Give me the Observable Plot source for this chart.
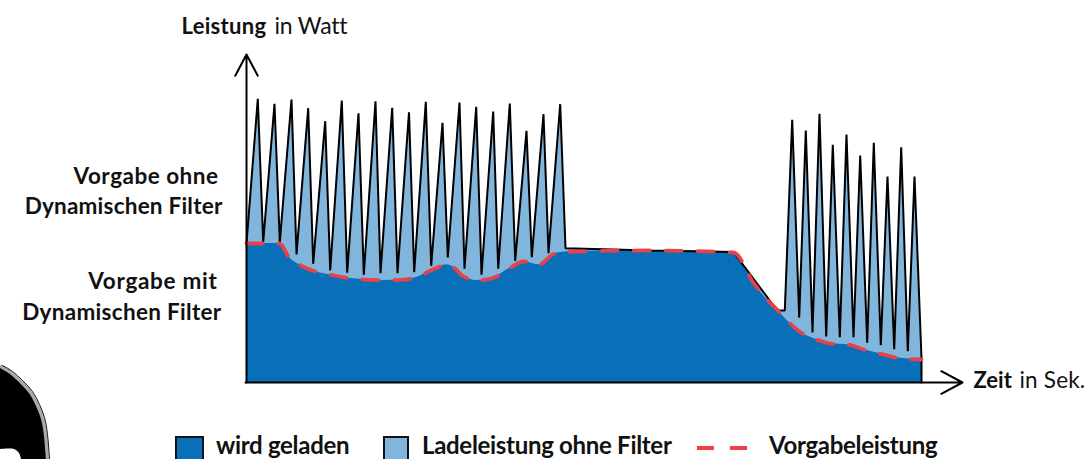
<!DOCTYPE html>
<html><head><meta charset="utf-8">
<script src="https://cdn.jsdelivr.net/npm/d3@7"></script>
<script src="https://cdn.jsdelivr.net/npm/@observablehq/plot@0.6"></script>
<style>
html,body{margin:0;padding:0;background:#fff;width:1088px;height:459px;overflow:hidden;font-family:Lato,sans-serif}
#wrap{position:relative;width:1088px;height:459px;overflow:hidden}
svg{display:block}
#legend{position:absolute;left:0;top:433px;height:24px;width:1088px;color:#111;font-size:24px;line-height:24px;font-weight:700;letter-spacing:-.3px;white-space:nowrap}
#legend span{position:absolute;top:0}
#legend i{position:absolute;display:block;box-sizing:border-box;top:3px;height:30px;border:2px solid #111}
#legend b{position:absolute;display:block;height:4px;top:13px}
</style></head><body><div id="wrap"><div id="chart"></div><div id="legend"></div></div>
<script>
const ladeZeit=[0,11.3,16.7,28,33.3,45,50,61.7,66.7,78.7,83.7,95.3,100.7,112,117.3,129,134,145.7,151,162.5,167.7,179.3,184.7,196,201.3,213,218,229.7,235,246.7,251.7,263.3,268.7,280,285.3,297,302,313.7,319,404,487,530.7,538.3,545.7,552.7,559.3,566,573,579.7,586.3,593.3,600,607,613.7,620.7,627.3,634.3,641,647.7,654.7,661.3,668,675,675];
const ladeLeistung=[139,283.7,140.3,278.7,140.3,283,128,274.3,118.7,261.3,112,282,109.7,269.3,107.7,281.3,109.3,274.7,109.3,270.3,110.3,280.7,116.7,259.7,125,280,113.7,275.7,107.7,271,113.7,279,121.7,251.7,125.3,268.3,129.3,278.3,134.3,132,130.5,72,72,262.7,64.7,252,50,268.7,46,237.7,45.3,248,45.3,227,39.7,239.7,37.3,206,33.3,235.3,31.3,206,24,0];
const filterZeit=[0,16,33,42,55.7,71,88,104,120.7,137,154,169,185.7,200.7,207,215.7,230.7,247,262.3,277.3,292.3,306.7,322,404,487,507.3,518.3,530.7,540.7,554,569,585.7,602,617,634,650.7,675];
const filterLeistung=[139,139,139,126,116.3,110.3,107,104,102.7,102,102.7,104.7,112.7,117.7,115.3,107,102,104.7,113.7,121,117.7,128.3,130.7,132,130,99.3,85.3,72.7,62,50.3,43.3,38.7,37.7,33,28.7,24.7,23];
const randZeit=[-246,-236,-226,-216,-209,-204,-201,-199];
const randWert=[16,10,1,-10,-23,-36,-53,-77];
const fleckZeit=[-246,-232,-227,-225];
const fleckWert=[-67,-67,-71,-77];
const legendeEintraege=["wird geladen","Ladeleistung ohne Filter","Vorgabeleistung"];
const farbeGeladen="#0a6fb9",farbeLade="#82b5dc",farbeVorgabe="#e8414a";

const lade=ladeZeit.map((x,i)=>({x,y:ladeLeistung[i]}));
const filter=filterZeit.map((x,i)=>({x,y:filterLeistung[i]}));
const rand=randZeit.map((x,i)=>({x,y:randWert[i]}));
const fleck=fleckZeit.map((x,i)=>({x,y:fleckWert[i]}));

let cssIndex=0;const cssRules=[];
const t=(text,x,y,textAnchor,fontWeight,fontSize,ls)=>{const c="ls"+(cssIndex++);cssRules.push(`.${c}{letter-spacing:${ls}}`);return Plot.text([{text,x,y}],{x:"x",y:"y",text:"text",textAnchor,fontWeight,fontSize,fill:"#111",fontFamily:"Lato",className:c});};

const plot=Plot.plot({
  width:1088,height:459,margin:0,
  x:{domain:[-246,842],range:[0,1088],axis:null},
  y:{domain:[-77,382],range:[459,0],axis:null},
  marks:[
    Plot.areaY(rand,{x:"x",y1:-77,y2:"y",fill:"#000",curve:"natural"}),
    Plot.line(rand,{x:"x",y:"y",stroke:"#a8a8a8",strokeWidth:3.2,curve:"natural"}),
    Plot.line(rand,{x:"x",y:"y",stroke:"#111",strokeWidth:1,dx:2,dy:-1,curve:"natural"}),
    Plot.areaY(fleck,{x:"x",y1:-77,y2:"y",fill:"#fff",curve:"catmull-rom"}),
    Plot.areaY(lade,{x:"x",y:"y",fill:farbeLade}),
    Plot.areaY(filter,{x:"x",y:"y",fill:farbeGeladen,curve:"monotone-x"}),
    Plot.line(lade,{x:"x",y:"y",stroke:"#000",strokeWidth:2,strokeLinejoin:"miter"}),
    Plot.line(filter,{x:"x",y:"y",stroke:farbeVorgabe,strokeWidth:3.8,strokeDasharray:"16,16",curve:"monotone-x"}),
    Plot.arrow([{x1:-1,y1:0,x2:716,y2:0}],{x1:"x1",y1:"y1",x2:"x2",y2:"y2",stroke:"#000",strokeWidth:2,headLength:18,headAngle:56,bend:0}),
    Plot.arrow([{x1:0,y1:0,x2:0,y2:328}],{x1:"x1",y1:"y1",x2:"x2",y2:"y2",stroke:"#000",strokeWidth:2,headLength:18,headAngle:56,bend:0}),
    t("Leistung",-65,356,"start","700",22,".3px"),
    t("in Watt",28,356,"start","400",23,"-.2px"),
    t("Vorgabe ohne",-28,206,"end","700",22.5,".5px"),
    t("Dynamischen Filter",-24,176,"end","700",22.5,".22px"),
    t("Vorgabe mit",-29,101,"end","700",22.5,".7px"),
    t("Dynamischen Filter",-25,70,"end","700",22.5,".3px"),
    t("Zeit",727,2,"start","700",22,"0px"),
    t("in Sek.",773,2,"start","400",22.5,".2px")
  ]
});
const st=document.createElement("style");st.textContent=cssRules.join("\n");document.head.append(st);
document.getElementById("chart").append(plot);

const lg=document.getElementById("legend");
const add=(tag,css,txt)=>{const e=document.createElement(tag);e.style.cssText=css;if(txt)e.textContent=txt;lg.append(e)};
add("i",`left:175px;width:29px;background:${farbeGeladen}`);
add("span","left:216px",legendeEintraege[0]);
add("i",`left:383px;width:26px;background:${farbeLade}`);
add("span","left:422px",legendeEintraege[1]);
add("b",`left:697px;width:17px;background:${farbeVorgabe}`);
add("b",`left:730px;width:17px;background:${farbeVorgabe}`);
add("span","left:769px",legendeEintraege[2]);
</script></body></html>
